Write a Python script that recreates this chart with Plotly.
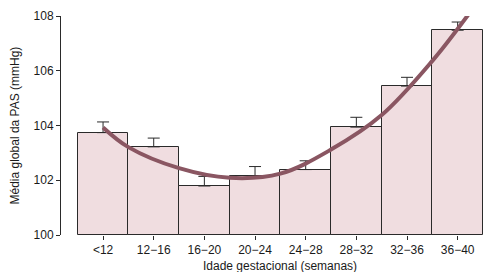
import plotly.graph_objects as go

categories = ["<12", "12\u221216", "16\u221220", "20\u221224", "24\u221228", "28\u221232", "32\u221236", "36\u221240"]
means = [103.74, 103.22, 101.79, 102.17, 102.39, 103.94, 105.44, 107.48]
errors_up = [0.39, 0.32, 0.35, 0.33, 0.32, 0.36, 0.32, 0.30]

# fitted trend curve (x in category index units)
curve_idx = [0, 0.5, 1.5, 2.5, 3.5, 4.5, 5.5, 6.5, 7.25]
curve_val = [103.93, 103.21, 102.44, 102.09, 102.24, 103.12, 104.38, 106.36, 108.15]

y_ticks = [100, 102, 104, 106, 108]

FONT = "Liberation Sans, Arial, sans-serif"
idx = list(range(len(categories)))

fig = go.Figure()
fig.add_trace(go.Bar(
    x=idx, y=[m - 100 for m in means], base=100,
    width=1,
    marker=dict(color="#f0dde0", line=dict(color="#2a2a2a", width=1)),
    error_y=dict(type="data", symmetric=False, array=errors_up,
                 arrayminus=[0] * len(errors_up),
                 color="#2a2a2a", thickness=1, width=6),
    hoverinfo="skip",
))
fig.add_trace(go.Scatter(
    x=curve_idx, y=curve_val, mode="lines",
    line=dict(color="#8a5662", width=4, shape="spline"),
    hoverinfo="skip",
))

# x-axis line from first to last tick
fig.add_shape(type="line", xref="x", yref="y", x0=idx[0], x1=idx[-1], y0=100, y1=100,
              line=dict(color="#2a2a2a", width=1), layer="above")

fig.update_layout(
    width=484, height=272,
    margin=dict(l=61, r=1, t=16, b=37),
    paper_bgcolor="white", plot_bgcolor="white",
    showlegend=False, bargap=0,
    font=dict(family=FONT, size=12, color="#1a1a1a"),
    xaxis=dict(range=[-0.83, 7.5], tickmode="array", tickvals=idx, ticktext=categories,
               ticks="outside", ticklen=4, tickcolor="#2a2a2a", showgrid=False,
               zeroline=False, showline=False, tickfont=dict(size=12)),
    yaxis=dict(range=[100, 108], tickmode="array", tickvals=y_ticks,
               ticks="outside", ticklen=4, tickcolor="#2a2a2a", showgrid=False,
               zeroline=False, showline=True, linecolor="#2a2a2a", linewidth=1,
               tickfont=dict(size=12)),
    annotations=[
        dict(text="Idade gestacional (semanas)", xref="x", yref="paper",
             x=3.5, y=0, yshift=-31, showarrow=False, xanchor="center", yanchor="middle",
             font=dict(size=12)),
        dict(text="Média global da PAS (mmHg)", xref="paper", yref="paper",
             x=0, y=0.5, xshift=-47, textangle=-90, showarrow=False,
             xanchor="center", yanchor="middle", font=dict(size=12)),
    ],
)

fig.write_html("out.html", config={"displayModeBar": False},
               post_script="document.body.style.margin='0';document.body.style.padding='0';")
